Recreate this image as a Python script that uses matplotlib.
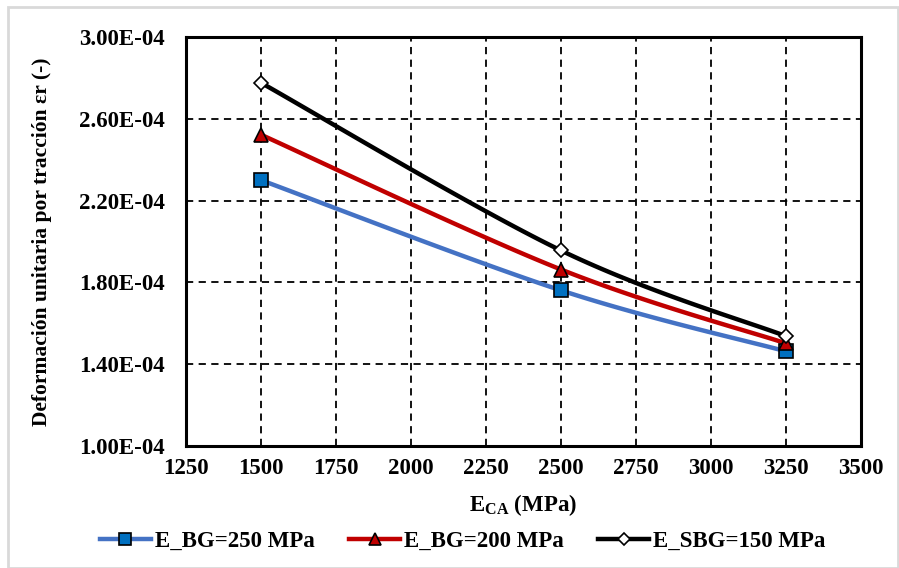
import matplotlib.pyplot as plt
import numpy as np
from matplotlib.patches import Rectangle

plt.rcParams['font.family'] = ['Liberation Serif', 'DejaVu Serif']
plt.rcParams['font.weight'] = 'bold'
plt.rcParams['mathtext.fontset'] = 'custom'
plt.rcParams['mathtext.rm'] = 'Liberation Serif:bold'
plt.rcParams['mathtext.bf'] = 'Liberation Serif:bold'

e_ca = [1500, 2500, 3250]
bg_250 = [2.30e-4, 1.761e-4, 1.463e-4]
bg_200 = [2.522e-4, 1.863e-4, 1.502e-4]
sbg_150 = [2.776e-4, 1.956e-4, 1.537e-4]
labels = ['E_BG=250 MPa', 'E_BG=200 MPa', 'E_SBG=150 MPa']
colors = ['#4472C4', '#C00000', '#000000']
face = ['#0070C0', '#C00000', '#FFFFFF']
markers = ['s', '^', 'D']
msizes = [10, 10, 7]


def smooth(x, y, n=40):
    # Excel-style smoothed line: cubic Bezier with Catmull-Rom control points
    x = np.asarray(x, float)
    y = np.asarray(y, float)
    px = np.concatenate([[x[0]], x, [x[-1]]])
    py = np.concatenate([[y[0]], y, [y[-1]]])
    xs, ys = [], []
    t = np.linspace(0, 1, n)
    for i in range(1, len(x)):
        p0 = np.array([px[i], py[i]])
        p3 = np.array([px[i + 1], py[i + 1]])
        c1 = p0 + (np.array([px[i + 1], py[i + 1]]) - np.array([px[i - 1], py[i - 1]])) / 6
        c2 = p3 - (np.array([px[i + 2], py[i + 2]]) - np.array([px[i], py[i]])) / 6
        b = ((1 - t) ** 3)[:, None] * p0 + (3 * (1 - t) ** 2 * t)[:, None] * c1 \
            + (3 * (1 - t) * t ** 2)[:, None] * c2 + (t ** 3)[:, None] * p3
        xs.extend(b[:, 0])
        ys.extend(b[:, 1])
    return xs, ys


fig = plt.figure(figsize=(8.99, 5.68), dpi=100)
ax = fig.add_axes([0.2069, 0.2148, 0.7508, 0.7201])

for ys, lab, c, fc, m, ms in zip([bg_250, bg_200, sbg_150], labels, colors, face, markers, msizes):
    sx, sy = smooth(e_ca, ys)
    ax.plot(sx, sy, color=c, lw=3.2, zorder=3)
    ax.plot(e_ca, ys, ls='none', marker=m, ms=ms, mfc=fc, mec='black', mew=1.2, zorder=4)
    ax.plot([], [], color=c, lw=3.2, marker=m, ms=ms * 0.9, mfc=fc, mec='black', mew=1.2, label=lab)

ax.set_xlim(1250, 3500)
ax.set_ylim(1.0e-4, 3.0e-4)
ax.set_xticks(np.arange(1250, 3501, 250))
ax.set_yticks(np.arange(1.0e-4, 3.01e-4, 0.4e-4))
ax.set_yticklabels(['%.2fE-04' % (v * 1e4) for v in ax.get_yticks()])
ax.grid(True, color='black', ls=(0, (4, 3)), lw=1.3)
ax.tick_params(axis='both', length=0, labelsize=16.5, pad=9)
ax.tick_params(axis='y', pad=15)
for lab in ax.get_xticklabels() + ax.get_yticklabels():
    lab.set_fontweight('bold')
for s in ax.spines.values():
    s.set_linewidth(2.2)

ax.set_xlabel(r'E$_{\mathrm{CA}}$ (MPa)', fontsize=16.5, fontweight='bold', labelpad=9)
ax.set_ylabel('Deformación unitaria por tracción εr (-)', fontsize=15.5, fontweight='bold', labelpad=20)

leg = fig.legend(loc='center', bbox_to_anchor=(0.515, 0.047), ncol=3, frameon=False,
                 prop={'size': 16.5, 'weight': 'bold'}, handlelength=2.2, columnspacing=1.5,
                 handletextpad=0.2)

fig.patches.append(Rectangle((8 / 899, 0), 890 / 899, 1 - 7 / 568, transform=fig.transFigure,
                             fill=False, ec='#D9D9D9', lw=2))

fig.savefig('out.png', dpi=100)
